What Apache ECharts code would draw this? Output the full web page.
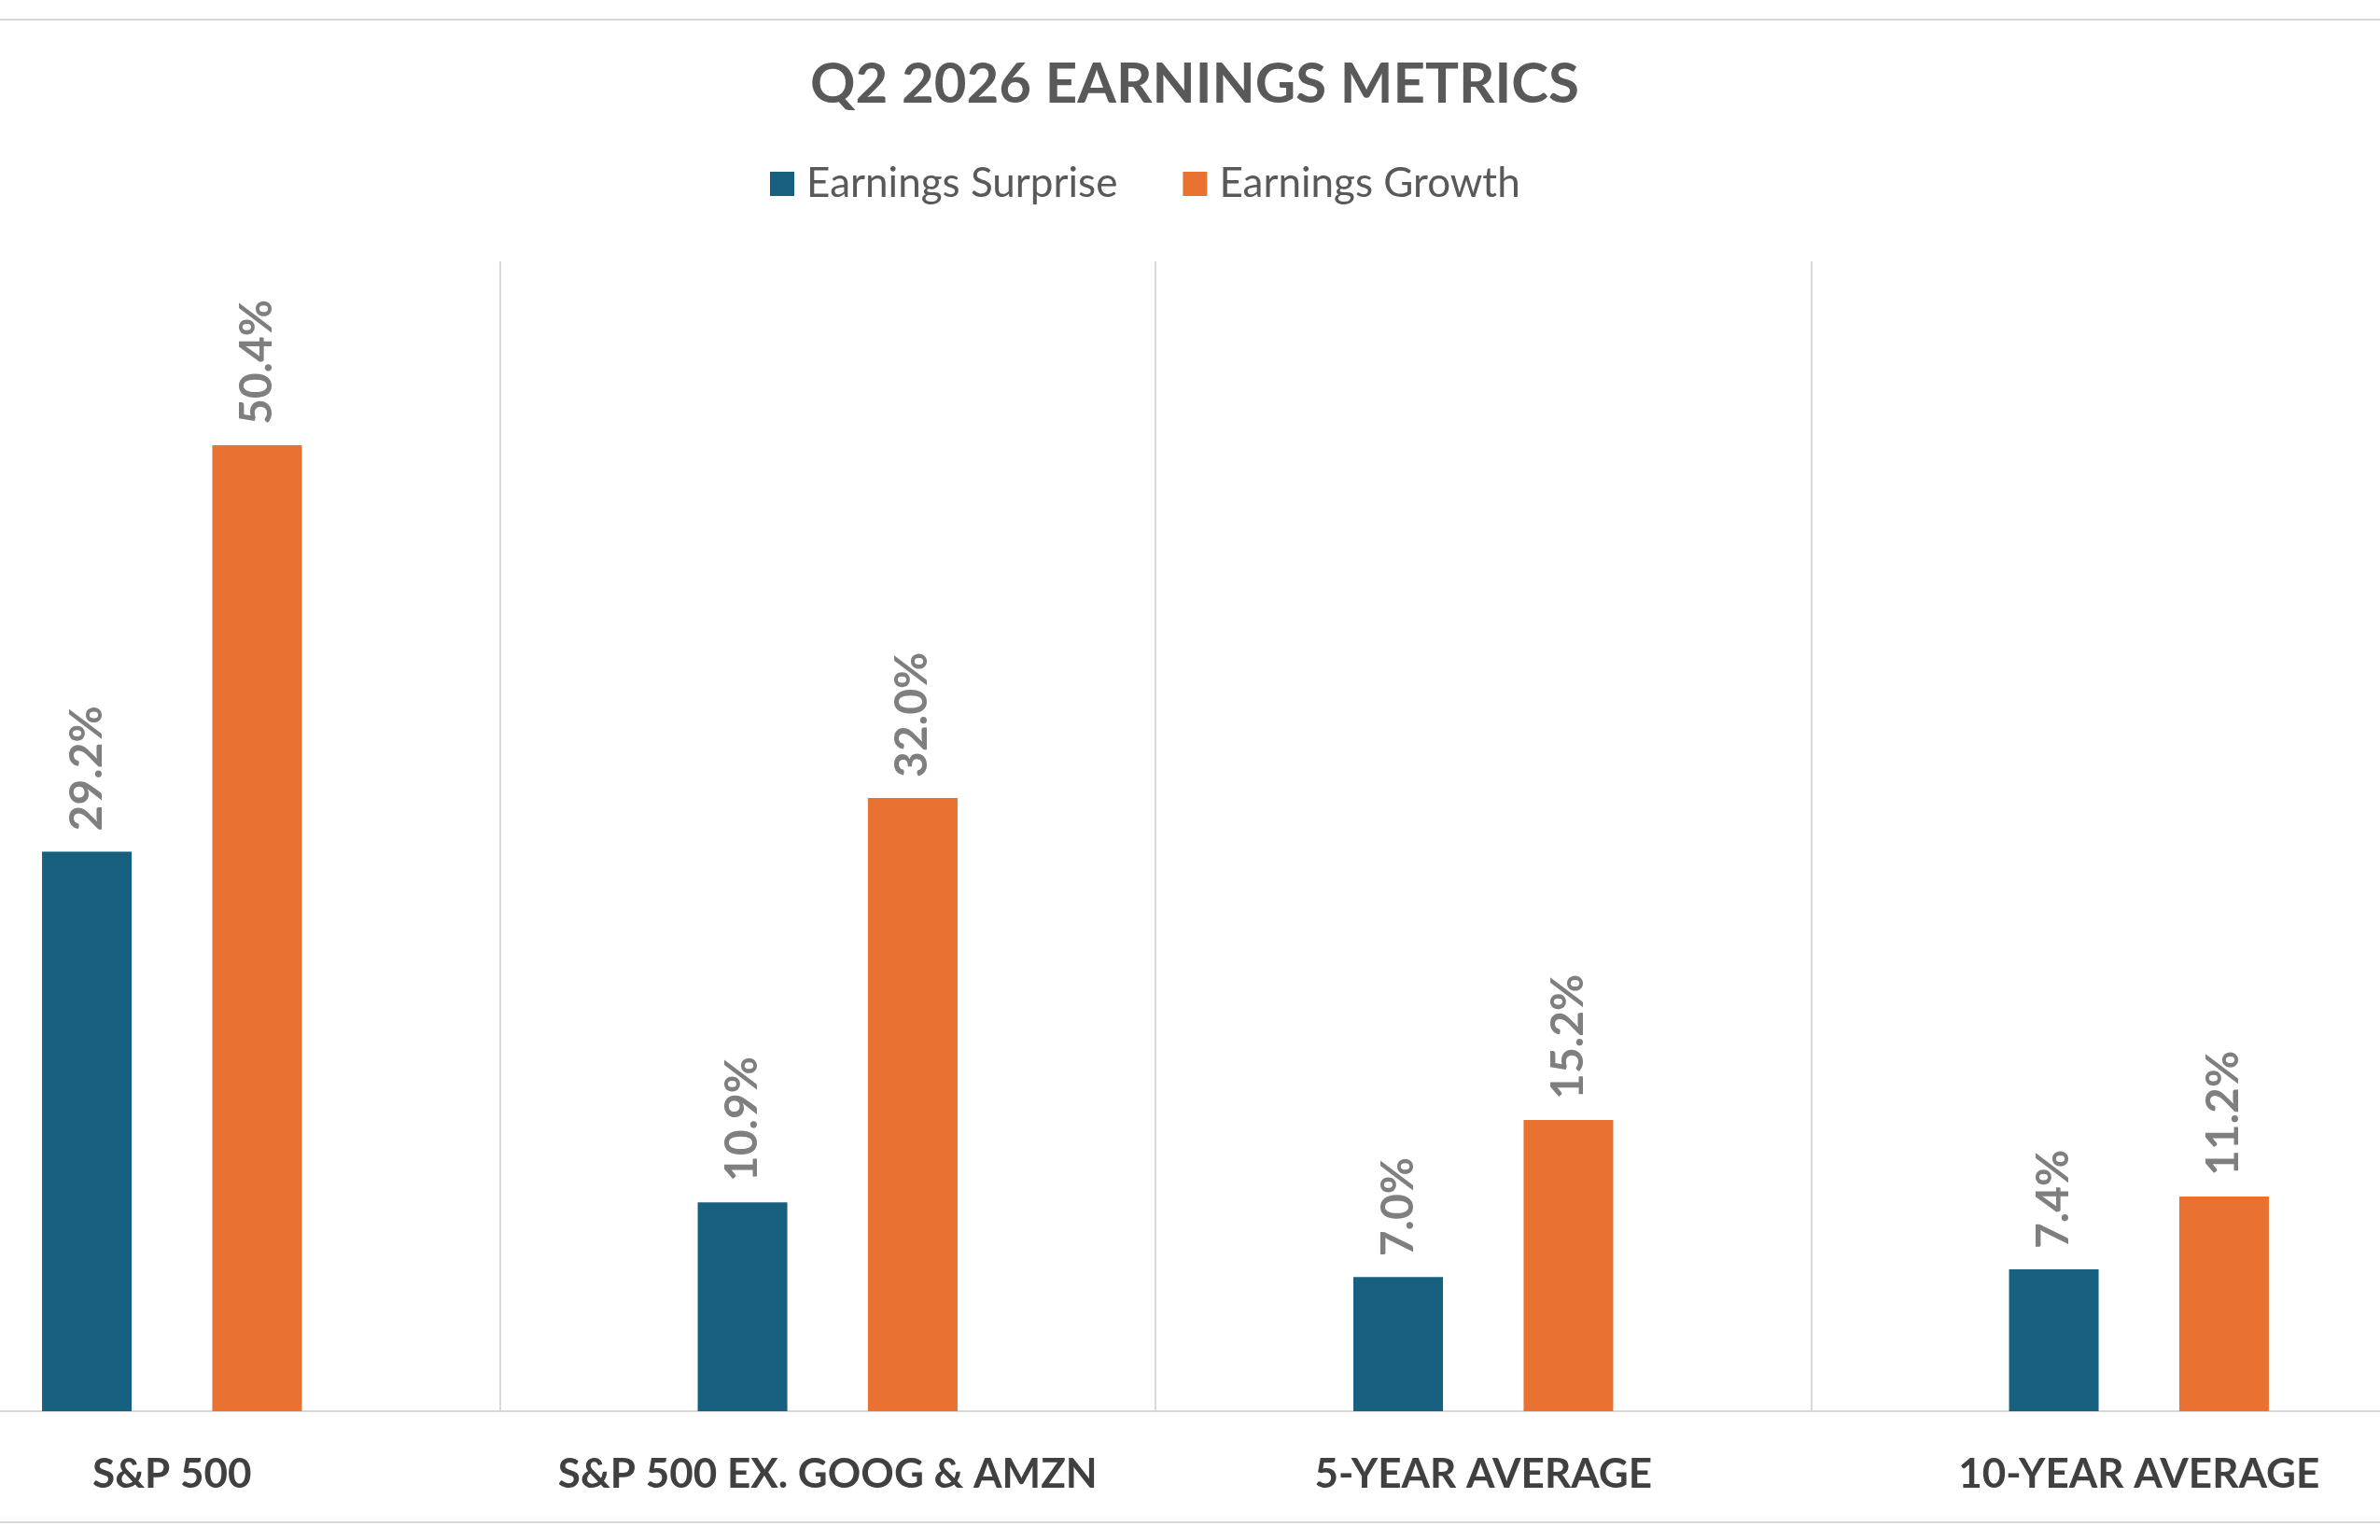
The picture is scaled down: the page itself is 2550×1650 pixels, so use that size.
<!DOCTYPE html>
<html>
<head>
<meta charset="utf-8">
<script src="https://cdn.jsdelivr.net/npm/echarts@6/dist/echarts.min.js"></script>
<style>
  html, body { margin: 0; padding: 0; background: #fff; overflow: hidden; width: 2550px; height: 1650px; position: relative; }
  #chart { width: 2810px; height: 1650px; position: absolute; left: -167px; top: 0; }
</style>
</head>
<body>
<div id="chart"></div>
<script>
  // Q2 2026 earnings metrics (percent)
  const categories = ["S&P 500", "S&P 500 EX. GOOG & AMZN", "5-YEAR AVERAGE", "10-YEAR AVERAGE"];
  const surprise = [29.2, 10.9, 7.0, 7.4];
  const growth = [50.4, 32.0, 15.2, 11.2];

  const FONT = "Lato, 'Open Sans', sans-serif";
  const OFFSET = 167; // chart div is shifted left so the outer categories are cropped
  const labelStyle = {
    show: true,
    position: "top",
    rotate: 90,
    align: "left",
    verticalAlign: "middle",
    distance: 22,
    formatter: p => p.value.toFixed(1) + "%",
    fontFamily: FONT,
    fontWeight: "bold",
    fontSize: 48,
    color: "#7f7f7f"
  };

  const chart = echarts.init(document.getElementById("chart"));
  chart.setOption({
    animation: false,
    title: {
      text: "Q2 2026 EARNINGS METRICS",
      left: OFFSET + 1275,
      textAlign: "center",
      top: 56,
      textStyle: { fontFamily: FONT, fontWeight: "bold", fontSize: 60, color: "#595959" }
    },
    legend: {
      top: 170,
      left: OFFSET + 820,
      icon: "rect",
      itemWidth: 26,
      itemHeight: 26,
      itemGap: 70,
      textStyle: { fontFamily: FONT, fontSize: 44, color: "#595959", padding: [0, 0, 0, 8] },
      data: ["Earnings Surprise", "Earnings Growth"]
    },
    grid: { left: 0, right: 0, top: 280, bottom: 138 },
    xAxis: {
      type: "category",
      data: categories,
      axisTick: { show: false },
      axisLine: { lineStyle: { color: "#d9d9d9", width: 2 } },
      splitLine: { show: true, interval: 0, lineStyle: { color: "#d9d9d9", width: 2 } },
      axisLabel: {
        interval: 0,
        margin: 46,
        fontFamily: FONT,
        fontWeight: "bold",
        fontSize: 44,
        color: "#404040"
      }
    },
    yAxis: { type: "value", min: 0, max: 60, show: false, splitLine: { show: false } },
    graphic: [
      { type: "line", shape: { x1: OFFSET, y1: 21, x2: OFFSET + 2550, y2: 21 }, style: { stroke: "#d9d9d9", lineWidth: 2 } },
      { type: "line", shape: { x1: OFFSET, y1: 1631, x2: OFFSET + 2550, y2: 1631 }, style: { stroke: "#d9d9d9", lineWidth: 2 } }
    ],
    series: [
      { name: "Earnings Surprise", type: "bar", data: surprise, barWidth: 96, barGap: "90%",
        itemStyle: { color: "#17607f" }, label: labelStyle },
      { name: "Earnings Growth", type: "bar", data: growth, barWidth: 96,
        itemStyle: { color: "#e97132" }, label: labelStyle }
    ]
  });
</script>
</body>
</html>
